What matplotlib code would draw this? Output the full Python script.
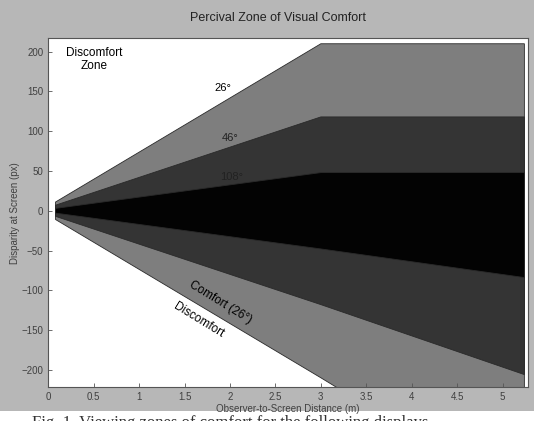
import numpy as np
import matplotlib
matplotlib.use('Agg')
import matplotlib.pyplot as plt

plt.rcParams.update({'font.family': ['Liberation Sans', 'DejaVu Sans']})

# 舒适区边界 (观看距离 m -> 屏幕视差 px)
dist = [0.08, 3.0, 5.24]
z26_upper = [11, 210, 210]
z26_lower = [-11, -210, -366]
z46_upper = [7, 118, 118]
z46_lower = [-7, -118, -206]
z108_upper = [3, 48, 48]
z108_lower = [-3, -48, -84]

xticks = [0, 0.5, 1, 1.5, 2, 2.5, 3, 3.5, 4, 4.5, 5]
yticks = [-200, -150, -100, -50, 0, 50, 100, 150, 200]

fig = plt.figure(figsize=(5.34, 4.21), dpi=100)
fig.patch.set_facecolor('#b7b7b7')
ax = fig.add_axes([0.0904, 0.080, 0.8984, 0.8293])
ax.set_facecolor('white')

zones = [
    (z26_upper, z26_lower, '#7e7e7e'),
    (z46_upper, z46_lower, '#343434'),
    (z108_upper, z108_lower, '#030303'),
]
for up, lo, col in zones:
    xs = list(dist) + list(dist[::-1])
    ys = list(up) + list(lo[::-1])
    ax.fill(xs, ys, color=col, edgecolor='#2a2a2a', linewidth=0.6)

ax.set_xlim(0, 5.28)
ax.set_ylim(-222, 217)
ax.set_xticks(xticks)
ax.set_xticklabels([f'{v:g}' for v in xticks])
ax.set_yticks(yticks)
ax.tick_params(direction='in', length=3, labelsize=7, colors='#555555',
               labelcolor='#404040', width=0.6)
for s in ax.spines.values():
    s.set_color('#555555')
    s.set_linewidth(0.8)

ax.set_xlabel('Observer-to-Screen Distance (m)', fontsize=7, color='#404040', labelpad=1)
ax.set_ylabel('Disparity at Screen (px)', fontsize=7, color='#404040', labelpad=1)
fig.text(0.52, 0.958, 'Percival Zone of Visual Comfort', ha='center', va='center',
         fontsize=9, color='#222222')

ax.text(0.51, 190, 'Discomfort\nZone', ha='center', va='center', fontsize=8.5,
        linespacing=1.1)
ax.text(1.92, 154, '26°', ha='center', va='center', fontsize=8)
ax.text(2.0, 91, '46°', ha='center', va='center', fontsize=8, color='#222222')
ax.text(2.02, 42, '108°', ha='center', va='center', fontsize=8, color='#222222')
ax.text(1.90, -115, 'Comfort (26°)', ha='center', va='center', fontsize=8.5,
        rotation=-31.5)
ax.text(1.65, -138, 'Discomfort', ha='center', va='center', fontsize=8.5,
        rotation=-31.5)

# 图片底部被截断的图注
fig.patches.append(plt.Rectangle((0, 0), 1, 0.024, transform=fig.transFigure,
                                 facecolor='white', edgecolor='none', zorder=-1))
fig.text(0.06, -0.024, 'Fig. 1. Viewing zones of comfort for the following displays',
         ha='left', va='bottom', fontsize=12, family='Liberation Serif', color='#333333')

fig.savefig('out.png', dpi=100, facecolor=fig.get_facecolor())
